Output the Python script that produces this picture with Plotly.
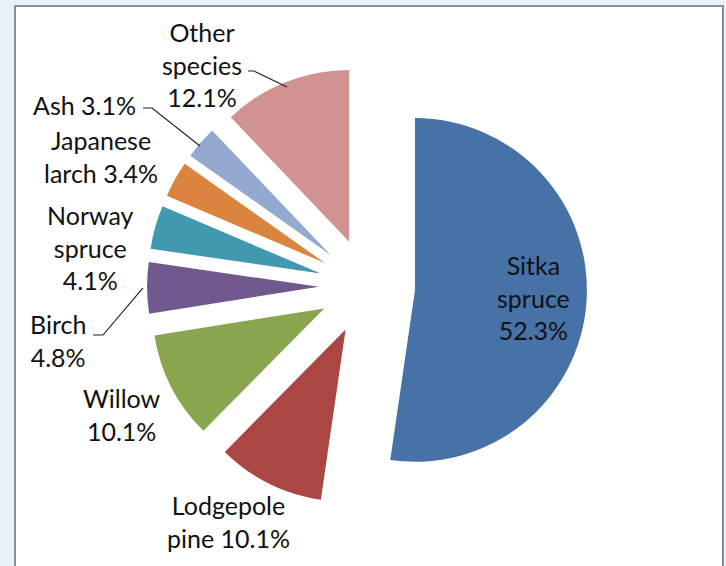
import plotly.graph_objects as go

# Data
species = ["Sitka spruce", "Lodgepole pine", "Willow", "Birch",
           "Norway spruce", "Japanese larch", "Ash", "Other species"]
shares = [52.3, 10.1, 10.1, 4.8, 4.1, 3.4, 3.1, 12.1]
# display text with Excel-style line breaks
label_text = ["Sitka<br>spruce<br>", "Lodgepole<br>pine ", "Willow<br>", "Birch<br>",
              "Norway<br>spruce<br>", "Japanese<br>larch ", "Ash ", "Other<br>species<br>"]
colors = ["#4672A8", "#AA4643", "#89A54E", "#71588F",
          "#4198AF", "#DB843D", "#93A9CF", "#D19392"]

W, H = 726, 566
# label centres (pixels)
label_pos = [(533, 297), (228, 521), (122, 414), (58, 340),
             (90, 247), (101, 157), (84, 105), (202, 64)]
# leader lines (pixels)
leaders = [
    [(93, 335), (103, 335), (143, 288)],
    [(143, 108), (152, 108), (200, 146)],
    [(248, 71), (254, 71), (287, 87)],
]

def px(x):
    return x / W

def py(y):
    return 1 - y / H

fig = go.Figure()
fig.add_trace(go.Pie(
    labels=species,
    values=shares,
    sort=False,
    direction="clockwise",
    rotation=0,
    pull=[0.28] * len(shares),
    marker=dict(colors=colors, line=dict(color="white", width=0)),
    textinfo="none",
    hoverinfo="label+percent",
    domain=dict(x=[0.2025, 0.8086], y=[0.1051, 0.8825]),
    showlegend=False,
))

font = dict(family="Lato, Open Sans, sans-serif", size=25, color="#111111")
for txt, v, (x, y) in zip(label_text, shares, label_pos):
    fig.add_annotation(x=px(x), y=py(y), xref="paper", yref="paper",
                       text=f"{txt}{v:.1f}%", showarrow=False,
                       xanchor="center", yanchor="middle", align="center",
                       font=font)

shapes = [dict(type="rect", xref="paper", yref="paper",
               x0=px(15), x1=px(723), y0=py(575), y1=py(6),
               fillcolor="white", line=dict(color="#8E8E8E", width=2),
               layer="below")]
for pts in leaders:
    path = "M " + " L ".join(f"{px(a):.4f},{py(b):.4f}" for a, b in pts)
    shapes.append(dict(type="path", xref="paper", yref="paper", path=path,
                       line=dict(color="#222222", width=1.2)))

fig.update_layout(
    width=W, height=H,
    margin=dict(l=0, r=0, t=0, b=0),
    paper_bgcolor="#EAF1FA",
    plot_bgcolor="#EAF1FA",
    shapes=shapes,
)

fig.write_html("out.html",
               config={"displayModeBar": False},
               post_script="document.body.style.margin='0px';"
                           "document.body.style.background='#EAF1FA';")
